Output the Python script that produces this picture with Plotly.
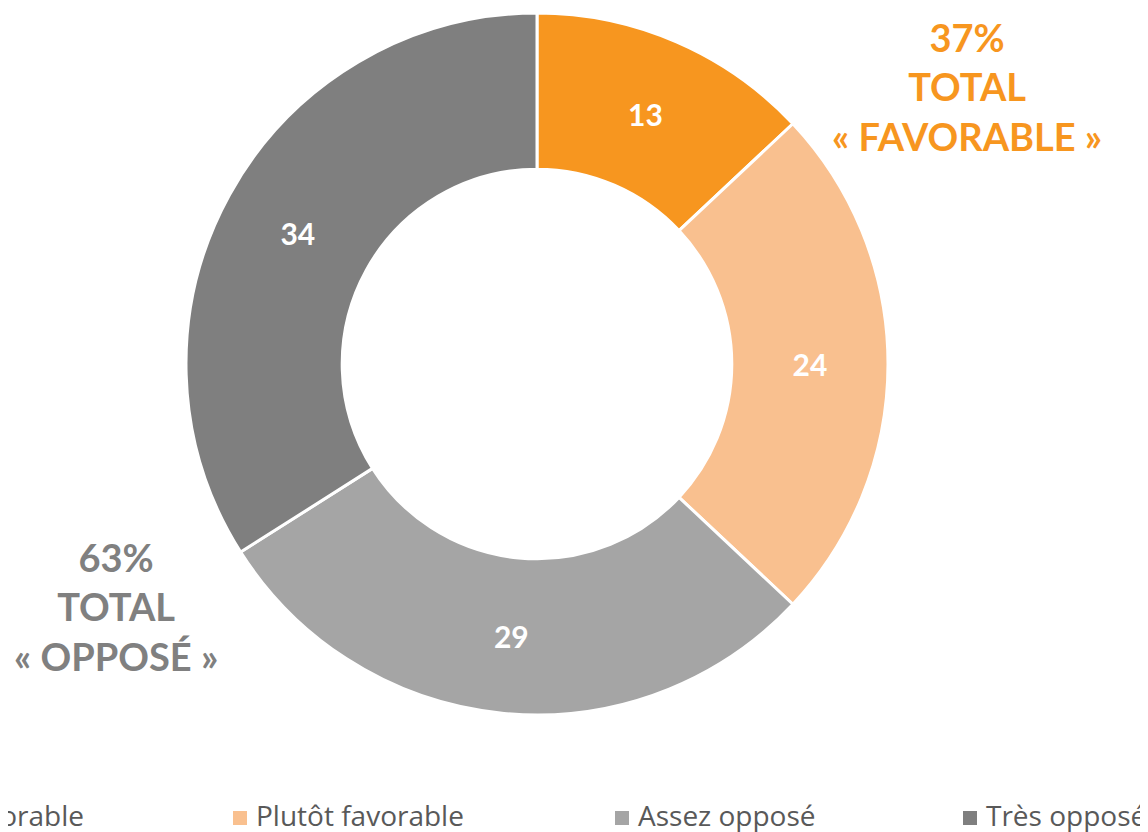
import plotly.graph_objects as go

categories = ["Très favorable", "Plutôt favorable", "Assez opposé", "Très opposé"]
values = [13, 24, 29, 34]
colors = ["#F7961F", "#F9C08F", "#A5A5A5", "#7F7F7F"]
total_labels = ["37%<br>TOTAL<br>« FAVORABLE »", "63%<br>TOTAL<br>« OPPOSÉ »"]
total_colors = ["#F7961F", "#808080"]

W, H = 1148, 832
FONT = "Lato"
LEG_FONT = "Open Sans"

cx, cy, R = 529, 356, 351  # pie placement (px from top-left of the figure)

fig = go.Figure()
fig.add_trace(go.Pie(
    labels=categories,
    values=values,
    sort=False,
    direction="clockwise",
    rotation=0,
    hole=0.555,
    marker=dict(colors=colors, line=dict(color="white", width=3)),
    texttemplate="<b>%{value}</b>",
    textposition="inside",
    insidetextorientation="horizontal",
    textfont=dict(family=FONT, size=30, color="white"),
    showlegend=False,
    domain=dict(x=[(cx - R) / W, (cx + R) / W], y=[1 - (cy + R) / H, 1 - (cy - R) / H]),
))

# totals
fig.add_annotation(x=959 / W, y=1 - 78 / H, xref="paper", yref="paper",
                   text="<b>" + total_labels[0] + "</b>", showarrow=False,
                   font=dict(family=FONT, size=38, color=total_colors[0]),
                   xanchor="center", yanchor="middle", align="center")
fig.add_annotation(x=108 / W, y=1 - 598 / H, xref="paper", yref="paper",
                   text="<b>" + total_labels[1] + "</b>", showarrow=False,
                   font=dict(family=FONT, size=38, color=total_colors[1]),
                   xanchor="center", yanchor="middle", align="center")

# legend (drawn manually, wider than the figure as in the original)
leg_marker_x = [-133, 225, 607, 955]  # marker left edges, px (layout)
leg_y = 810
sq = 14
for name, col, mx in zip(categories, colors, leg_marker_x):
    fig.add_shape(type="rect", xref="paper", yref="paper",
                  x0=mx / W, x1=(mx + sq) / W,
                  y0=1 - (leg_y + sq / 2) / H, y1=1 - (leg_y - sq / 2) / H,
                  fillcolor=col, line=dict(width=0))
    fig.add_annotation(x=(mx + sq + 7) / W, y=1 - (leg_y - 3) / H, xref="paper", yref="paper",
                       text=name, showarrow=False, xanchor="left", yanchor="middle",
                       font=dict(family=LEG_FONT, size=28, color="#595959"))

fig.update_layout(
    width=W, height=H,
    margin=dict(l=0, r=0, t=0, b=0),
    paper_bgcolor="white", plot_bgcolor="white",
)
fig.write_html("out.html")
